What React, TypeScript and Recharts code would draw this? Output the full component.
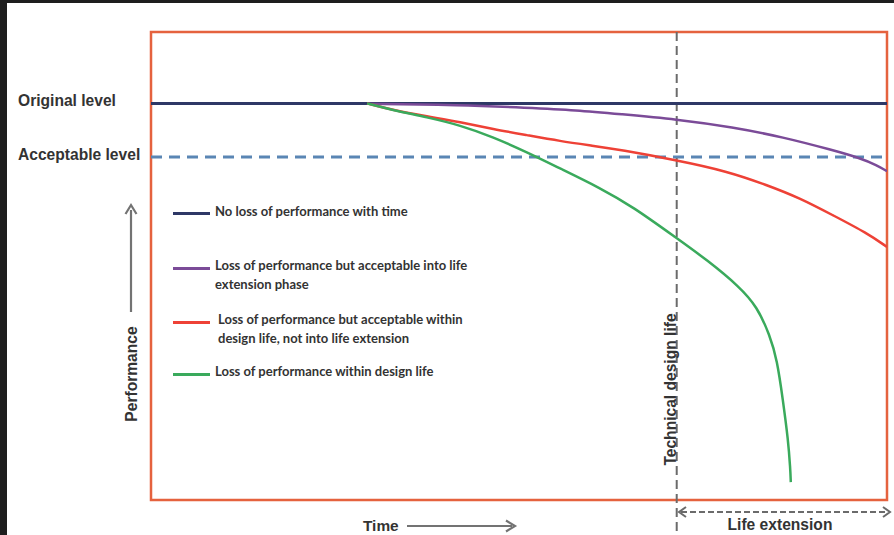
import React from "react";
import { LineChart, Line, XAxis, YAxis, ReferenceLine, ReferenceArea, Legend } from "recharts";

// ---- data (x: time units, y: performance units) ----
const X_MAX = 140;
const Y_MAX = 118;
const ACCEPTABLE_LEVEL = 86.5;
const DESIGN_LIFE = 100;

const noLossX = [0, 140];
const noLossY = [100, 100];

const purpleX = [41.1, 58.8, 71.5, 81.0, 89.2, 99.9, 110.7, 120.2, 129.7, 134.9, 138.1, 140];
const purpleY = [99.9, 99.6, 98.9, 98.3, 97.3, 96.0, 94.0, 91.5, 88.2, 86.2, 84.4, 82.9];

const redX = [41.1, 46.0, 52.5, 58.8, 65.1, 71.5, 77.8, 84.1, 89.2, 99.9, 109.6, 117.2, 123.5, 129.7, 136.2, 140];
const redY = [100, 98.3, 96.7, 95.3, 93.5, 92.0, 90.5, 89.3, 88.3, 85.7, 82.9, 79.4, 76.1, 71.8, 67.3, 63.8];

const greenX = [41.1, 46.0, 52.5, 58.8, 65.1, 71.5, 77.8, 85.4, 91.7, 99.9, 105.8, 112.0, 115.3, 117.7, 119.1, 120.2, 121.2, 121.6, 121.7];
const greenY = [100, 98.3, 96.5, 94.5, 91.5, 87.7, 83.6, 78.7, 73.9, 66.1, 60.5, 53.7, 48.7, 41.6, 35.3, 25.2, 15.1, 8.0, 4.5];

const seriesNames = [
  "No loss of performance with time",
  "Loss of performance but acceptable into life extension phase",
  "Loss of performance but acceptable within design life, not into life extension",
  "Loss of performance within design life",
];
const seriesColors = ["#2e3866", "#7b4b98", "#ee4136", "#3aaa5c"];
const legendLines = [
  ["No loss of performance with time"],
  ["Loss of performance but acceptable into life", "extension phase"],
  ["Loss of performance but acceptable within", "design life, not into life extension"],
  ["Loss of performance within design life"],
];

const toPts = (xs: number[], ys: number[]) => xs.map((x, i) => ({ x, y: ys[i] }));
const noLossData = toPts(noLossX, noLossY);
const purpleData = toPts(purpleX, purpleY);
const redData = toPts(redX, redY);
const greenData = toPts(greenX, greenY);

const TEXT = "#333333";
const BOLD_FONT = "'Liberation Sans', Arial, sans-serif";
const LEGEND_FONT = "Lato, 'Open Sans', sans-serif";

const legendTops = [202, 256, 310, 362];

function LegendContent(props: any) {
  const payload = (props.payload || []).slice();
  const items = payload
    .map((p: any) => ({ idx: seriesNames.indexOf(p.value), color: p.color }))
    .filter((p: any) => p.idx >= 0)
    .sort((a: any, b: any) => a.idx - b.idx);
  return (
    <div style={{ position: "relative", width: 0, height: 0 }}>
      {items.map((p: any) => {
        const i = p.idx;
        return (
          <div key={i} style={{ position: "absolute", left: 0, top: legendTops[i] - 195, width: 320 }}>
            <div
              style={{
                position: "absolute",
                left: 0,
                top: i === 0 ? 10 : 11,
                width: 37,
                height: 3,
                background: seriesColors[i],
              }}
            />
            <div
              style={{
                position: "absolute",
                left: i === 2 ? 45 : 42,
                top: 0,
                fontFamily: LEGEND_FONT,
                fontWeight: 700,
                fontSize: 13,
                lineHeight: "19px",
                color: TEXT,
                whiteSpace: "nowrap",
              }}
            >
              {legendLines[i].map((l, j) => (
                <div key={j}>{l}</div>
              ))}
            </div>
          </div>
        );
      })}
    </div>
  );
}

export default function App() {
  return (
    <div style={{ position: "relative", width: 894, height: 535, background: "#1e1e1e", overflow: "hidden" }}>
      <style>{"body{margin:0}"}</style>
      <div style={{ position: "absolute", left: 7, top: 3, right: 0, bottom: 0, background: "#ffffff" }} />
      <div style={{ position: "absolute", left: 0, top: 0 }}>
        <LineChart width={894} height={535} margin={{ top: 32, left: 151, right: 7, bottom: 35 }}>
          <XAxis type="number" dataKey="x" domain={[0, X_MAX]} hide allowDataOverflow height={0} />
          <YAxis type="number" dataKey="y" domain={[0, Y_MAX]} hide allowDataOverflow width={0} />
          <ReferenceArea
            x1={0}
            x2={X_MAX}
            y1={0}
            y2={Y_MAX}
            fill="none"
            fillOpacity={0}
            stroke="#e5623e"
            strokeWidth={2.5}
            ifOverflow="visible"
          />
          <ReferenceLine y={ACCEPTABLE_LEVEL} stroke="#5a86b4" strokeWidth={3} strokeDasharray="11 7" />
          <ReferenceLine
            segment={[
              { x: DESIGN_LIFE, y: Y_MAX },
              { x: DESIGN_LIFE, y: -9 },
            ]}
            stroke="#6b6b6b"
            strokeWidth={2}
            strokeDasharray="9 5"
            ifOverflow="visible"
          />
          <Line
            data={noLossData}
            dataKey="y"
            name={seriesNames[0]}
            stroke={seriesColors[0]}
            strokeWidth={3}
            dot={false}
            type="linear"
            isAnimationActive={false}
          />
          <Line
            data={purpleData}
            dataKey="y"
            name={seriesNames[1]}
            stroke={seriesColors[1]}
            strokeWidth={2.5}
            dot={false}
            type="basis"
            isAnimationActive={false}
          />
          <Line
            data={redData}
            dataKey="y"
            name={seriesNames[2]}
            stroke={seriesColors[2]}
            strokeWidth={2.5}
            dot={false}
            type="basis"
            isAnimationActive={false}
          />
          <Line
            data={greenData}
            dataKey="y"
            name={seriesNames[3]}
            stroke={seriesColors[3]}
            strokeWidth={2.5}
            dot={false}
            type="basis"
            isAnimationActive={false}
          />
          <Legend
            layout="horizontal"
            verticalAlign="middle"
            align="center"
            content={<LegendContent />}
            wrapperStyle={{ left: 173, top: 195, width: 0, height: 0 }}
          />
        </LineChart>
      </div>
      <svg width={894} height={535} style={{ position: "absolute", left: 0, top: 0, pointerEvents: "none" }}>
        <text x={18} y={106} fontFamily={BOLD_FONT} fontWeight="bold" fontSize={15.6} fill={TEXT}>
          Original level
        </text>
        <text x={18} y={160} fontFamily={BOLD_FONT} fontWeight="bold" fontSize={15.6} fill={TEXT}>
          Acceptable level
        </text>
        <text
          transform="translate(137,374) rotate(-90)"
          textAnchor="middle"
          fontFamily={BOLD_FONT}
          fontWeight="bold"
          fontSize={15.6}
          fill={TEXT}
        >
          Performance
        </text>
        <line x1={131} y1={312} x2={131} y2={210} stroke="#737373" strokeWidth={2.2} />
        <polyline points="125.5,214 131,205 136.5,214" fill="none" stroke="#737373" strokeWidth={2.2} />
        <text x={363} y={530.5} fontFamily={BOLD_FONT} fontWeight="bold" fontSize={15.4} fill={TEXT}>
          Time
        </text>
        <line x1={407} y1={526} x2={512} y2={526} stroke="#737373" strokeWidth={2.2} />
        <polyline points="506,520.5 515,526 506,531.5" fill="none" stroke="#737373" strokeWidth={2.2} />
        <text
          transform="translate(676,389.5) rotate(-90)"
          textAnchor="middle"
          fontFamily={BOLD_FONT}
          fontWeight="bold"
          fontSize={15.6}
          fill={TEXT}
        >
          Technical design life
        </text>
        <line x1={681} y1={512} x2={887} y2={512} stroke="#6b6b6b" strokeWidth={2} strokeDasharray="6 3" />
        <polyline points="686,507 679,512 686,517" fill="none" stroke="#6b6b6b" strokeWidth={2} />
        <polyline points="883,507 890,512 883,517" fill="none" stroke="#6b6b6b" strokeWidth={2} />
        <text x={780} y={530} textAnchor="middle" fontFamily={BOLD_FONT} fontWeight="bold" fontSize={15.6} fill={TEXT}>
          Life extension
        </text>
      </svg>
    </div>
  );
}
